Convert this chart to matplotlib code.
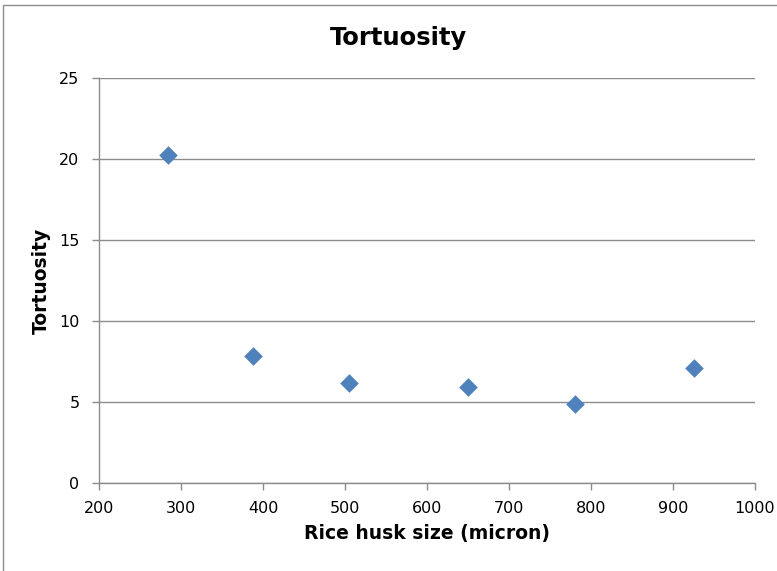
import matplotlib
matplotlib.use('Agg')
import matplotlib.pyplot as plt
from matplotlib.patches import Rectangle

# rice husk size (micron) vs tortuosity
husk_size = [284, 388, 505, 650, 780, 925]
tortuosity = [20.25, 7.85, 6.2, 5.9, 4.9, 7.1]
x_ticks = [200, 300, 400, 500, 600, 700, 800, 900, 1000]
y_ticks = [0, 5, 10, 15, 20, 25]

fig = plt.figure(figsize=(7.77, 5.71), dpi=100)
ax = fig.add_axes([99/777, 1-483/571, (755-99)/777, (483-78)/571])

ax.scatter(husk_size, tortuosity, marker='D', s=90, color='#4F81BD', zorder=3, linewidths=0)

ax.set_xlim(200, 1000)
ax.set_ylim(0, 25)
ax.set_xticks(x_ticks)
ax.set_yticks(y_ticks)
ax.grid(axis='y', color='#8c8c8c', linewidth=1)
ax.set_axisbelow(True)

for s in ['top', 'right']:
    ax.spines[s].set_visible(False)
for s in ['left', 'bottom']:
    ax.spines[s].set_color('#8c8c8c')
    ax.spines[s].set_linewidth(1)
ax.tick_params(axis='both', colors='#8c8c8c', labelcolor='black', labelsize=11.5, length=5, width=1)
ax.tick_params(axis='x', pad=8)
ax.tick_params(axis='y', pad=9)

ax.set_xlabel('Rice husk size (micron)', fontsize=13.5, fontweight='bold', labelpad=6)
ax.set_ylabel('Tortuosity', fontsize=13.5, fontweight='bold', labelpad=6)
fig.text(398/777, 1-38/571, 'Tortuosity', fontsize=17.5, fontweight='bold', ha='center', va='center')

# chart area border
fig.patches.append(Rectangle((3/777, -0.1), 1.2, 1-5/571+0.1, transform=fig.transFigure,
                             fill=False, edgecolor='#8c8c8c', linewidth=1))

fig.savefig('out.png', dpi=100)
